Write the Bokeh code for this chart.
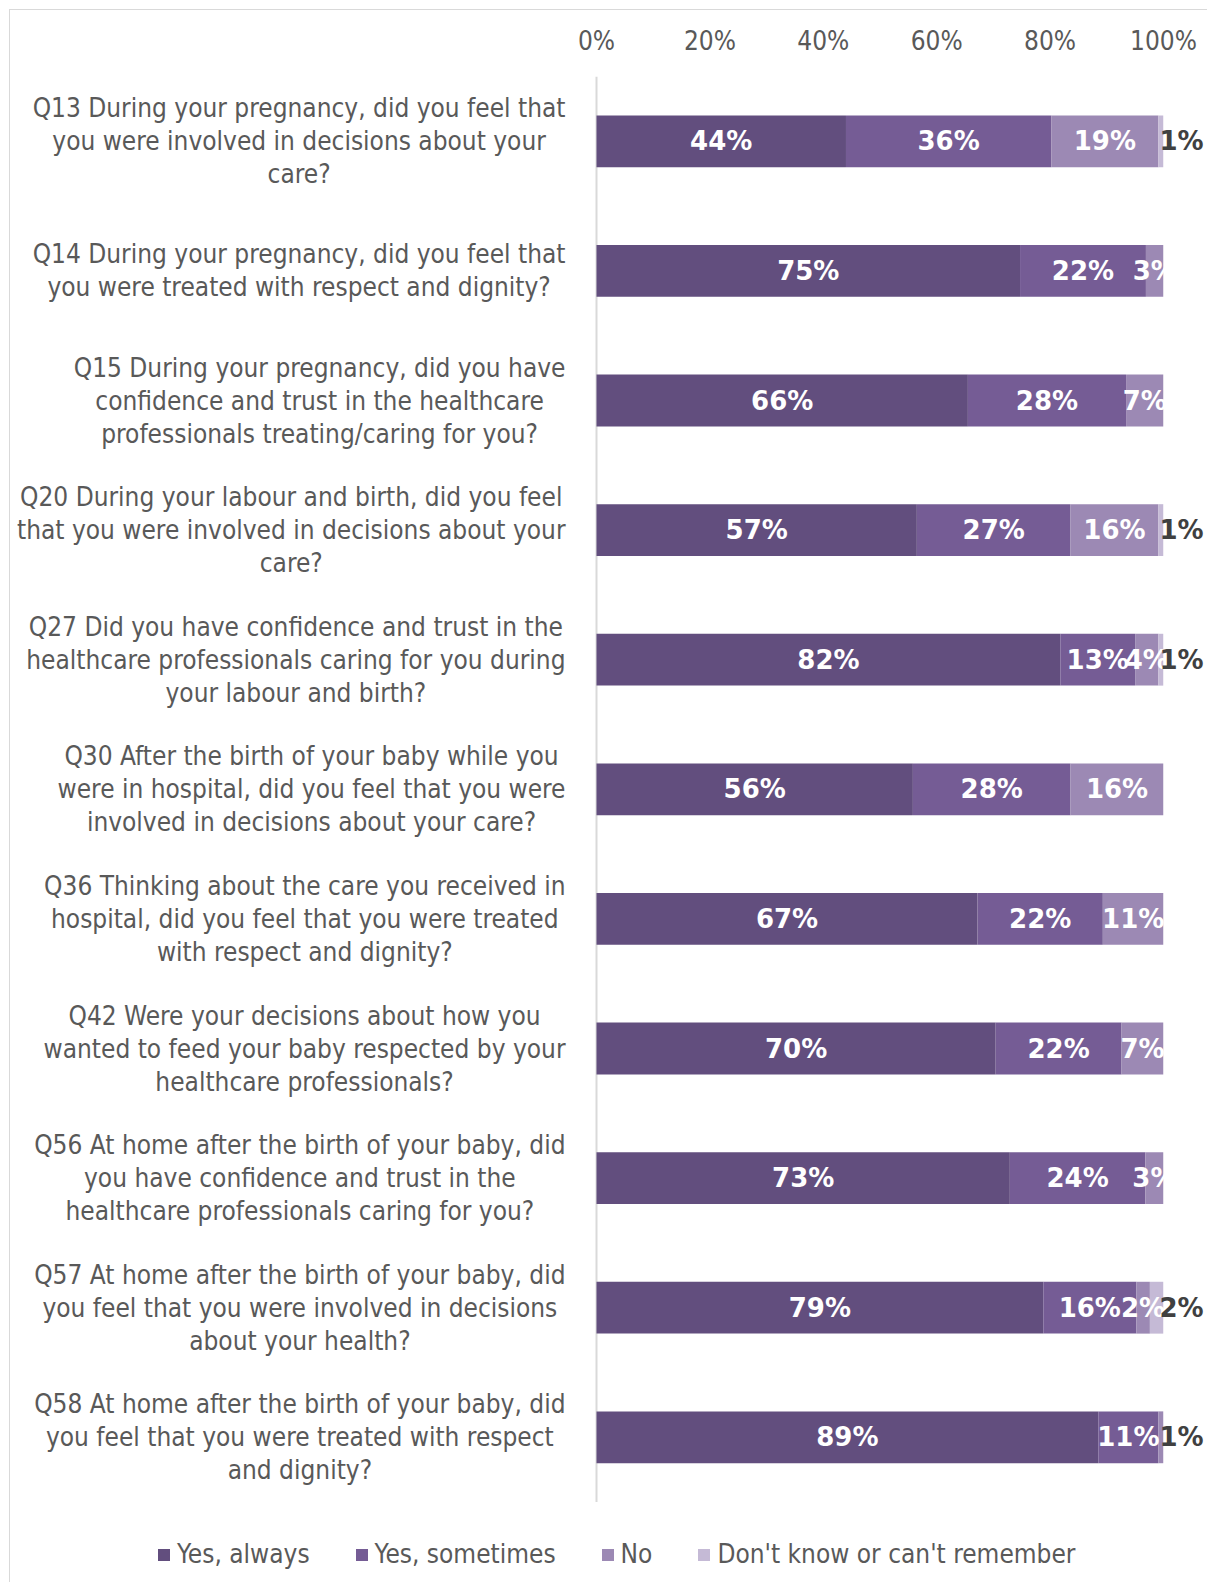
import numpy as np
from bokeh.plotting import figure
from bokeh.models import (Range1d, FixedTicker, PrintfTickFormatter, Legend,
                          LegendItem, ColumnDataSource)
from bokeh.core.properties import value
from bokeh.embed import file_html
from bokeh.resources import INLINE

# ---------------- data ----------------
questions = [
    "Q13 During your pregnancy, did you feel that\nyou were involved in decisions about your\ncare?",
    "Q14 During your pregnancy, did you feel that\nyou were treated with respect and dignity?",
    "Q15 During your pregnancy, did you have\nconfidence and trust in the healthcare\nprofessionals treating/caring for you?",
    "Q20 During your labour and birth, did you feel\nthat you were involved in decisions about your\ncare?",
    "Q27 Did you have confidence and trust in the\nhealthcare professionals caring for you during\nyour labour and birth?",
    "Q30 After the birth of your baby while you\nwere in hospital, did you feel that you were\ninvolved in decisions about your care?",
    "Q36 Thinking about the care you received in\nhospital, did you feel that you were treated\nwith respect and dignity?",
    "Q42 Were your decisions about how you\nwanted to feed your baby respected by your\nhealthcare professionals?",
    "Q56 At home after the birth of your baby, did\nyou have confidence and trust in the\nhealthcare professionals caring for you?",
    "Q57 At home after the birth of your baby, did\nyou feel that you were involved in decisions\nabout your health?",
    "Q58 At home after the birth of your baby, did\nyou feel that you were treated with respect\nand dignity?",
]
yes_always    = [44.0, 74.7, 65.5, 56.5, 81.8, 55.8, 67.2, 70.4, 72.9, 78.8, 88.5]
yes_sometimes = [36.2, 22.2, 27.9, 27.1, 13.2, 27.8, 22.1, 22.2, 23.9, 16.4, 10.6]
no_answer     = [18.9,  3.1,  6.6, 15.5,  4.1, 16.4, 10.7,  7.4,  3.2,  2.4,  0.9]
dont_know     = [ 0.9,  0.0,  0.0,  0.9,  0.9,  0.0,  0.0,  0.0,  0.0,  2.4,  0.0]

series_keys = ["yes_always", "yes_sometimes", "no_answer", "dont_know"]
series_names = ["Yes, always", "Yes, sometimes", "No", "Don't know or can't remember"]
colors = ["#624E7E", "#755C95", "#9C89B4", "#C5BAD6"]
x_ticks = [0, 20, 40, 60, 80, 100]

# ---------------- layout constants ----------------
W, H = 1198, 1573
TOP = 66
ROW_PX = 129.6
PX_PER_UNIT = 5.67
ZERO_PX = 586
n = len(questions)
rows = list(range(n))
n_units = (H - TOP) / ROW_PX
x_max = 100 + (W - ZERO_PX - 100 * PX_PER_UNIT) / PX_PER_UNIT

REG = "DejaVu Sans Condensed"
BOLD = "DejaVu Sans"

p = figure(width=W, height=H,
           x_range=Range1d(-ZERO_PX / PX_PER_UNIT, x_max),
           y_range=Range1d(-0.5 + n_units, -0.5),
           x_axis_location="above", y_axis_location=None,
           toolbar_location=None, output_backend="svg",
           min_border_left=0, min_border_right=0,
           min_border_top=TOP, min_border_bottom=0)
p.styles = {"margin-left": "9px", "margin-top": "9px",
            "border-left": "1px solid #d9d9d9", "border-top": "1px solid #d9d9d9"}
p.outline_line_color = None
p.grid.grid_line_color = None
p.background_fill_color = "white"
p.border_fill_color = "white"

ax = p.xaxis[0]
ax.ticker = FixedTicker(ticks=x_ticks)
ax.formatter = PrintfTickFormatter(format="%d%%")
ax.axis_line_color = None
ax.major_tick_line_color = None
ax.minor_tick_line_color = None
ax.major_tick_out = 0
ax.major_tick_in = 0
ax.major_label_standoff = 21
ax.major_label_text_font_size = "26px"
ax.major_label_text_color = "#595959"
ax.major_label_text_font = REG

# vertical category axis line
p.segment(x0=[0], y0=[-0.5], x1=[0], y1=[n - 0.5], line_color="#d9d9d9", line_width=2)

src = ColumnDataSource(dict(y=rows, yes_always=yes_always, yes_sometimes=yes_sometimes,
                            no_answer=no_answer, dont_know=dont_know))
renderers = p.hbar_stack(series_keys, y="y", height=0.4, color=colors,
                         source=src, line_color=None)

# data labels
arr = np.array([yes_always, yes_sometimes, no_answer, dont_know])
wx, wy, wt = [], [], []
dx, dy, dt = [], [], []
for i in range(n):
    nz = [k for k in range(arr.shape[0]) if arr[k, i] > 0]
    last = nz[-1]
    left = 0.0
    for k in nz:
        v = arr[k, i]
        txt = f"{int(v + 0.5)}%"
        if k == last and v < 2.5:
            dx.append(left + v)
            dy.append(i)
            dt.append(txt)
        else:
            wx.append(left + v / 2)
            wy.append(i)
            wt.append(txt)
        left += v

p.text(x=wx, y=wy, text=wt, text_color="white", text_font=value(BOLD),
       text_font_style="bold", text_font_size="26px",
       text_align="center", text_baseline="middle")

# labels are clipped at the 100% edge of the plot area
p.quad(left=[100], right=[x_max], bottom=[n - 0.5], top=[-0.5],
       fill_color="white", line_color=None)

p.text(x=dx, y=dy, text=dt, x_offset=-4, text_color="#404040", text_font=value(BOLD),
       text_font_style="bold", text_font_size="26px",
       text_align="left", text_baseline="middle")

# category labels
p.text(x=[0] * n, y=rows, text=questions, x_offset=-31,
       anchor=value("center_right"), text_align="center", text_baseline="middle",
       text_line_height=1.1, text_color="#595959", text_font=value(REG),
       text_font_size="26px")

legend = Legend(items=[LegendItem(label=nm, renderers=[r]) for nm, r in zip(series_names, renderers)],
                orientation="horizontal", location=(146, 14),
                border_line_color=None, background_fill_alpha=0,
                padding=0, margin=0, spacing=44, label_standoff=6,
                glyph_width=15, glyph_height=15,
                label_text_font_size="26px", label_text_color="#595959",
                label_text_font=REG)
p.add_layout(legend)

open("out.html", "w").write(file_html(p, INLINE))
